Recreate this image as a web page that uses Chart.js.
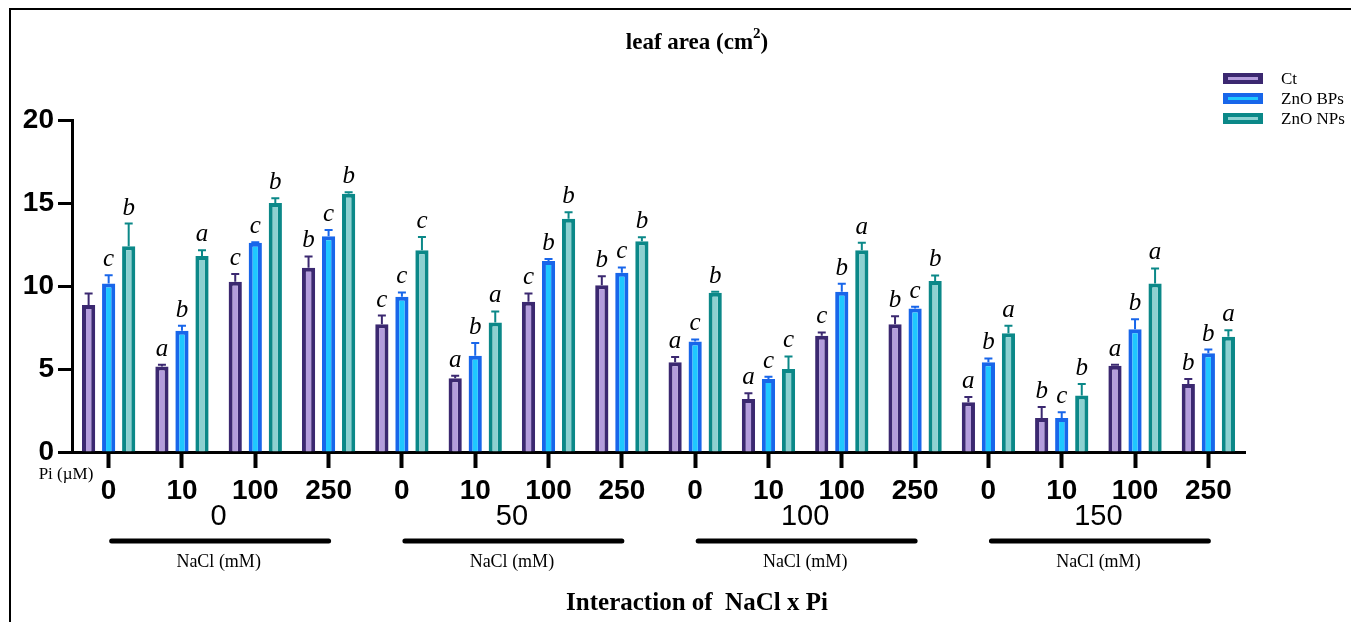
<!DOCTYPE html>
<html>
<head>
<meta charset="utf-8">
<script src="https://cdn.jsdelivr.net/npm/chart.js"></script>
<style>
  html, body { margin: 0; padding: 0; background: #fff; }
  #wrap { width: 1351px; height: 622px; position: relative; }
</style>
</head>
<body>
<div id="wrap"><canvas id="leaf"></canvas></div>
<script>
// Pi levels (µM) within each NaCl level (mM)
const piLabels = ['0', '10', '100', '250', '0', '10', '100', '250', '0', '10', '100', '250', '0', '10', '100', '250'];
const naclLabels = ['0', '50', '100', '150'];

// means
const ct = [8.85, 5.15, 10.25, 11.1, 7.7, 4.45, 9.05, 10.05, 5.4, 3.2, 7.0, 7.7, 3.0, 2.05, 5.2, 4.1];
const bp = [10.15, 7.3, 12.6, 13.0, 9.35, 5.8, 11.5, 10.8, 6.65, 4.4, 9.65, 8.65, 5.4, 2.05, 7.4, 5.95];
const np = [12.4, 11.8, 15.0, 15.55, 12.15, 7.8, 14.05, 12.7, 9.6, 5.0, 12.15, 10.3, 7.15, 3.4, 10.15, 6.95];

// upper error (SE)
const ctErr = [0.7, 0.1, 0.47, 0.68, 0.52, 0.14, 0.5, 0.54, 0.33, 0.34, 0.2, 0.48, 0.32, 0.66, 0.06, 0.3];
const bpErr = [0.5, 0.3, 0.03, 0.37, 0.26, 0.77, 0.12, 0.32, 0.13, 0.14, 0.48, 0.1, 0.24, 0.34, 0.6, 0.22];
const npErr = [1.36, 0.36, 0.28, 0.1, 0.8, 0.67, 0.39, 0.24, 0.05, 0.76, 0.45, 0.34, 0.46, 0.7, 0.91, 0.38];

// significance letters
const ctLet = ['', 'a', 'c', 'b', 'c', 'a', 'c', 'b', 'a', 'a', 'c', 'b', 'a', 'b', 'a', 'b'];
const bpLet = ['c', 'b', 'c', 'c', 'c', 'b', 'b', 'c', 'c', 'c', 'b', 'c', 'b', 'c', 'b', 'b'];
const npLet = ['b', 'a', 'b', 'b', 'c', 'a', 'b', 'b', 'b', 'c', 'a', 'b', 'a', 'b', 'a', 'a'];

const seriesNames = ['Ct', 'ZnO BPs', 'ZnO NPs'];
const edge = ['#3b2870', '#1866ea', '#0b8888'];
const inner = ['#b49ddc', '#1fc8ff', '#8dd1d1'];
const errs = [ctErr, bpErr, npErr];
const lets = [ctLet, bpLet, npLet];

const serif = '"Liberation Serif", "DejaVu Serif", serif';
const sans = '"Liberation Sans", Arial, sans-serif';

const extras = {
  id: 'extras',
  beforeDraw(chart) {
    const c = chart.ctx;
    c.save();
    c.fillStyle = '#fff';
    c.fillRect(0, 0, chart.width, chart.height);
    // frame
    c.strokeStyle = '#000';
    c.lineWidth = 2;
    c.beginPath();
    c.moveTo(10, chart.height);
    c.lineTo(10, 9);
    c.lineTo(chart.width, 9);
    c.stroke();
    c.restore();
  },
  afterDatasetsDraw(chart) {
    const c = chart.ctx;
    const y = chart.scales.y;
    c.save();
    chart.data.datasets.forEach((ds, di) => {
      const meta = chart.getDatasetMeta(di);
      meta.data.forEach((bar, i) => {
        const top = y.getPixelForValue(ds.data[i] + errs[di][i]);
        c.strokeStyle = edge[di];
        c.lineWidth = 2;
        c.beginPath();
        c.moveTo(bar.x, bar.y);
        c.lineTo(bar.x, top);
        c.moveTo(bar.x - 4, top);
        c.lineTo(bar.x + 4, top);
        c.stroke();
        if (lets[di][i]) {
          c.fillStyle = '#000';
          c.font = 'italic 25px ' + serif;
          c.textAlign = 'center';
          c.textBaseline = 'alphabetic';
          c.fillText(lets[di][i], bar.x, top - 9);
        }
      });
    });
    c.restore();
  },
  afterDraw(chart) {
    const c = chart.ctx;
    const x = chart.scales.x;
    c.save();
    c.fillStyle = '#000';
    c.textBaseline = 'middle';
    // title with superscript
    c.textAlign = 'left';
    c.font = 'bold 23px ' + serif;
    const t1 = 'leaf area (cm';
    const w1 = c.measureText(t1).width;
    c.font = 'bold 15px ' + serif;
    const w2 = c.measureText('2').width;
    c.font = 'bold 23px ' + serif;
    const w3 = c.measureText(')').width;
    let tx = 697 - (w1 + w2 + w3) / 2;
    c.fillText(t1, tx, 43);
    c.font = 'bold 15px ' + serif;
    c.fillText('2', tx + w1, 34);
    c.font = 'bold 23px ' + serif;
    c.fillText(')', tx + w1 + w2, 43);
    // legend
    seriesNames.forEach((n, k) => {
      const ly = 78 + k * 20;
      c.fillStyle = edge[k];
      c.fillRect(1223, ly - 5, 40, 11);
      c.fillStyle = inner[k];
      c.fillRect(1228, ly - 1, 30, 3);
      c.fillStyle = '#000';
      c.font = '17px ' + serif;
      c.textAlign = 'left';
      c.fillText(n, 1281, ly + 2);
    });
    c.textAlign = 'center';
    // Pi label
    c.font = '17px ' + serif;
    c.fillText('Pi (µM)', 66, 475);
    // NaCl groups
    naclLabels.forEach((lab, g) => {
      const x0 = x.getPixelForValue(g * 4);
      const x1 = x.getPixelForValue(g * 4 + 3);
      c.font = '29px ' + sans;
      c.fillText(lab, (x0 + x1) / 2, 517);
      c.lineWidth = 5;
      c.lineCap = 'round';
      c.strokeStyle = '#000';
      c.beginPath();
      c.moveTo(x0 + 3, 541);
      c.lineTo(x1, 541);
      c.stroke();
      c.font = '18px ' + serif;
      c.fillText('NaCl (mM)', (x0 + x1) / 2, 562);
    });
    c.font = 'bold 25px ' + serif;
    c.fillText('Interaction of  NaCl x Pi', 697, 604);
    c.restore();
  }
};

new Chart(document.getElementById('leaf'), {
  type: 'bar',
  data: {
    labels: piLabels,
    datasets: [ct, bp, np].map((d, k) => ({
      label: seriesNames[k],
      data: d,
      backgroundColor: inner[k],
      borderColor: edge[k],
      borderWidth: 4,
      borderSkipped: 'start',
      categoryPercentage: 0.82,
      barPercentage: 0.66
    }))
  },
  options: {
    responsive: true,
    maintainAspectRatio: false,
    animation: false,
    layout: { padding: { left: 10, top: 120, right: 106, bottom: 0 } },
    plugins: { legend: { display: false }, title: { display: false }, tooltip: { enabled: false } },
    scales: {
      x: {
        grid: { offset: false, drawOnChartArea: false, tickLength: 16, tickWidth: 4, tickColor: '#000' },
        border: { color: '#000', width: 3 },
        ticks: { color: '#000', font: { family: sans, size: 28, weight: 'bold' }, padding: 6, maxRotation: 0, autoSkip: false },
        afterFit(s) { s.height = 170; }
      },
      y: {
        min: 0, max: 20,
        grid: { drawOnChartArea: false, tickLength: 14, tickWidth: 3, tickColor: '#000' },
        border: { color: '#000', width: 3 },
        ticks: { stepSize: 5, color: '#000', font: { family: sans, size: 28, weight: 'bold' }, padding: 4 },
        afterFit(s) { s.width = 62; }
      }
    }
  },
  plugins: [extras]
});
</script>
</body>
</html>
